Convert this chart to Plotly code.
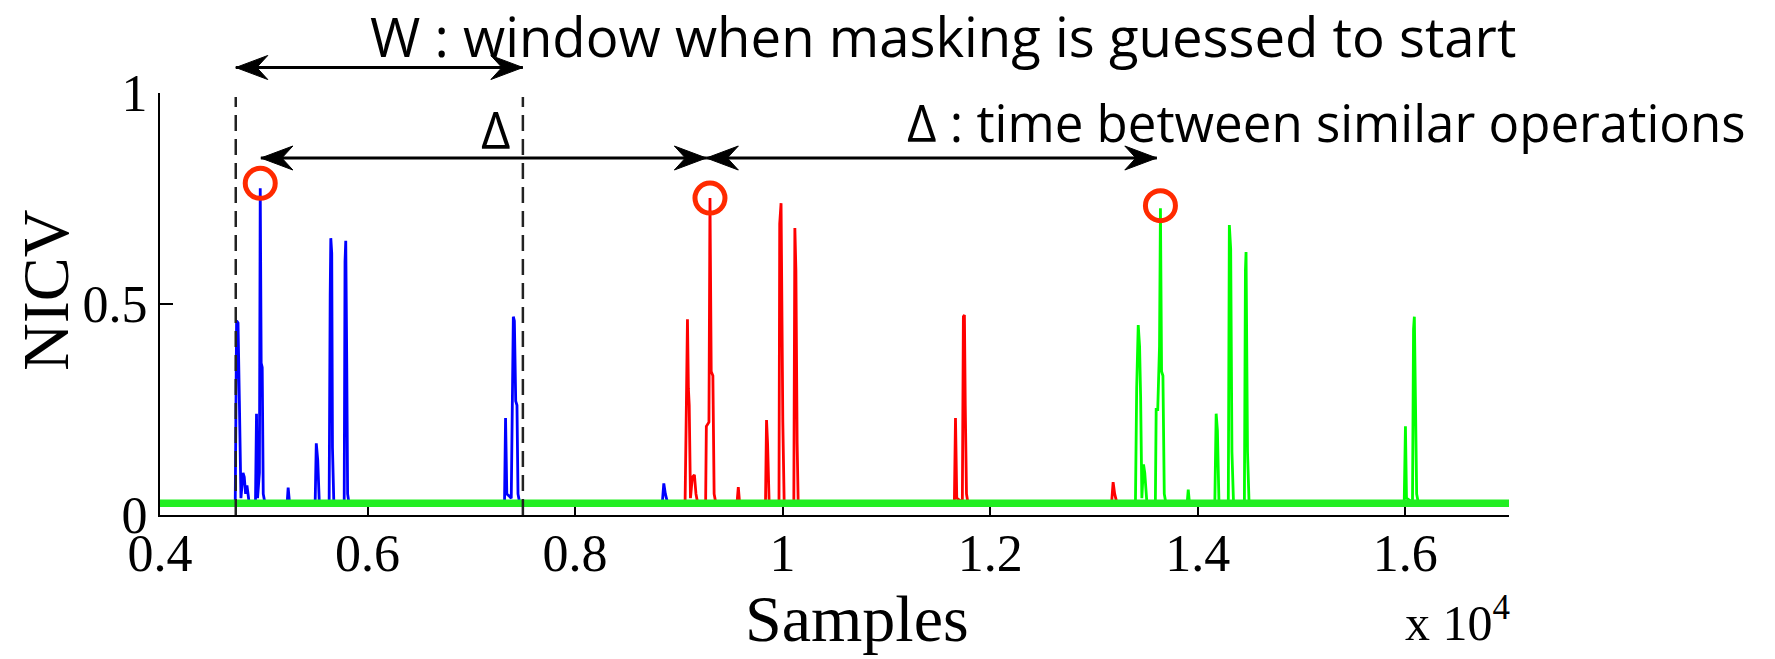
import plotly.graph_objects as go

# ---------------- data ----------------
x_range = [4000, 17000]
noise_band = [0.019, 0.037]

x_tick_vals = [4000, 6000, 8000, 10000, 12000, 14000, 16000]
x_tick_text = ["0.4", "0.6", "0.8", "1", "1.2", "1.4", "1.6"]
y_tick_vals = [0, 0.5, 1]
y_tick_text = ["0", "0.5", "1"]

blue_x = [4000, 4725, 4738, 4752, 4765, 4780, 4800, 4812, 4825, 4838, 4860,
          4920, 4930, 4940, 4958, 4966, 4975, 4985, 4995, 5010,
          5225, 5235, 5248,
          5495, 5506, 5520, 5535,
          5630, 5640, 5646, 5655, 5662, 5675,
          5775, 5783, 5790, 5800, 5808, 5820,
          7320, 7330, 7342,
          7385, 7395, 7405, 7415, 7428, 7440, 7450, 7465,
          8840, 8855, 8870, 8890, 17000]
blue_y = [0.027, 0.027, 0.46, 0.455, 0.27, 0.04, 0.10, 0.09, 0.05, 0.07, 0.027,
          0.027, 0.24, 0.04, 0.10, 0.774, 0.36, 0.35, 0.05, 0.03,
          0.027, 0.065, 0.03,
          0.027, 0.17, 0.13, 0.03,
          0.027, 0.52, 0.656, 0.62, 0.16, 0.03,
          0.027, 0.60, 0.65, 0.35, 0.05, 0.03,
          0.027, 0.23, 0.05,
          0.04, 0.30, 0.47, 0.46, 0.27, 0.26, 0.05, 0.03,
          0.027, 0.075, 0.05, 0.03, 0.027]

red_x = [4000, 9060, 9072, 9083, 9092, 9100, 9112, 9130, 9150, 9165, 9180,
         9258, 9265, 9290, 9300, 9312, 9328, 9340, 9355,
         9560, 9573, 9585,
         9835, 9845, 9855, 9870,
         9965, 9972, 9985, 9995, 10002, 10015,
         10108, 10118, 10128, 10140, 10150,
         11655, 11666, 11678, 11732, 11742, 11752, 11760, 11772, 11785,
         13170, 13185, 13200, 13220, 17000]
red_y = [0.027, 0.027, 0.25, 0.464, 0.30, 0.26, 0.04, 0.09, 0.095, 0.05, 0.03,
         0.027, 0.21, 0.22, 0.751, 0.34, 0.33, 0.05, 0.03,
         0.027, 0.066, 0.03,
         0.027, 0.225, 0.17, 0.03,
         0.027, 0.69, 0.739, 0.30, 0.22, 0.03,
         0.027, 0.68, 0.58, 0.17, 0.03,
         0.027, 0.23, 0.04, 0.03, 0.47, 0.474, 0.26, 0.05, 0.03,
         0.027, 0.078, 0.05, 0.03, 0.027]

green_x = [4000, 13400, 13412, 13427, 13440, 13450, 13462, 13478, 13490, 13510,
           13592, 13600, 13615, 13632, 13641, 13652, 13665, 13678, 13692,
           13898, 13909, 13920,
           14165, 14178, 14190, 14205,
           14295, 14305, 14318, 14330, 14345,
           14450, 14460, 14466, 14480, 14495,
           15990, 16002, 16012, 16070, 16080, 16088, 16098, 16110, 16125, 17000]
green_y = [0.027, 0.027, 0.30, 0.45, 0.40, 0.28, 0.04, 0.12, 0.10, 0.03,
           0.027, 0.25, 0.25, 0.40, 0.727, 0.34, 0.33, 0.05, 0.03,
           0.027, 0.06, 0.03,
           0.027, 0.24, 0.20, 0.03,
           0.027, 0.687, 0.63, 0.15, 0.03,
           0.027, 0.58, 0.623, 0.15, 0.03,
           0.027, 0.21, 0.04, 0.03, 0.44, 0.47, 0.28, 0.05, 0.03, 0.027]

circle_x = [4966, 9300, 13641]
circle_y = [0.786, 0.751, 0.733]

w_window = [4730, 7497]            # dashed window limits
delta_marks = [4972, 9265, 13606]  # ends of the two delta arrows

# ---------------- geometry helpers (pixels -> paper) ----------------
W, H = 1775, 659
PL, PR, PT, PB = 160, 1509, 93, 515


def px(xp):
    return (xp - PL) / (PR - PL)


def py(yp):
    return (PB - yp) / (PB - PT)


SERIF = "Liberation Serif"
SANS = "Open Sans"

fig = go.Figure()
for xs, ys, col, name in [(blue_x, blue_y, "#0000ff", "blue"),
                          (red_x, red_y, "#ff0000", "red"),
                          (green_x, green_y, "#00ff00", "green")]:
    fig.add_trace(go.Scatter(x=xs, y=ys, mode="lines", name=name,
                             line=dict(color=col, width=2.8), showlegend=False,
                             hoverinfo="skip"))

# noisy floor rendered as a thin green band
fig.add_trace(go.Scatter(x=x_range, y=[noise_band[0]] * 2, mode="lines",
                         line=dict(color="#00ff00", width=0), showlegend=False,
                         hoverinfo="skip"))
fig.add_trace(go.Scatter(x=x_range, y=[noise_band[1]] * 2, mode="lines",
                         line=dict(color="#00ff00", width=0), fill="tonexty",
                         fillcolor="#22ee22", showlegend=False, hoverinfo="skip"))

# circled peaks
fig.add_trace(go.Scatter(x=circle_x, y=circle_y, mode="markers",
                         marker=dict(symbol="circle-open", size=30, color="#ff2a00",
                                     line=dict(color="#ff2a00", width=5)),
                         showlegend=False, hoverinfo="skip", cliponaxis=False))

shapes = []
# dashed window lines
for xv in w_window:
    shapes.append(dict(type="line", xref="x", yref="paper", x0=xv, x1=xv,
                       y0=0, y1=py(97), layer="above",
                       line=dict(color="#222222", width=2.5, dash="16px,8px")))


def arrow(x0, x1, yp):
    yv = py(yp)
    out = [dict(type="line", xref="x", yref="paper", x0=x0, x1=x1, y0=yv, y1=yv,
                layer="above", line=dict(color="black", width=3))]
    out.append(dict(type="path", xref="x", yref="paper", xsizemode="pixel",
                    ysizemode="pixel", xanchor=x0, yanchor=yv, layer="above",
                    path="M0,0 L32,12 L21,0 L32,-12 Z", fillcolor="black",
                    line=dict(color="black", width=1)))
    out.append(dict(type="path", xref="x", yref="paper", xsizemode="pixel",
                    ysizemode="pixel", xanchor=x1, yanchor=yv, layer="above",
                    path="M0,0 L-32,12 L-21,0 L-32,-12 Z", fillcolor="black",
                    line=dict(color="black", width=1)))
    return out


shapes += arrow(w_window[0], w_window[1], 67.5)
shapes += arrow(delta_marks[0], delta_marks[1], 158)
shapes += arrow(delta_marks[1], delta_marks[2], 158)

annotations = [
    dict(text="W : window when masking is guessed to start", xref="paper", yref="paper",
         x=px(368), y=py(36), xanchor="left", yanchor="middle", showarrow=False,
         font=dict(family=SANS, size=54.5, color="black")),
    dict(text="Δ", xref="paper", yref="paper", x=px(496), y=py(129),
         xanchor="center", yanchor="middle", showarrow=False,
         font=dict(family=SANS, size=51, color="black")),
    dict(text="Δ : time between similar operations", xref="paper", yref="paper",
         x=px(905), y=py(122), xanchor="left", yanchor="middle", showarrow=False,
         font=dict(family=SANS, size=51, color="black")),
    dict(text="NICV", xref="paper", yref="paper", x=px(45), y=py(290),
         xanchor="center", yanchor="middle", textangle=-90, showarrow=False,
         font=dict(family=SERIF, size=66, color="black")),
    dict(text="Samples", xref="paper", yref="paper", x=px(857), y=py(618),
         xanchor="center", yanchor="middle", showarrow=False,
         font=dict(family=SERIF, size=66, color="black")),
    dict(text="x 10<sup>4</sup>", xref="paper", yref="paper", x=px(1512), y=py(619),
         xanchor="right", yanchor="middle", showarrow=False,
         font=dict(family=SERIF, size=50, color="black")),
]

fig.update_layout(
    width=W, height=H,
    margin=dict(l=PL, r=W - PR, t=PT, b=H - PB, pad=0),
    paper_bgcolor="white", plot_bgcolor="white",
    shapes=shapes, annotations=annotations,
    xaxis=dict(range=x_range, tickvals=x_tick_vals, ticktext=x_tick_text,
               ticks="inside", ticklen=8, tickwidth=1.5, tickcolor="black",
               showline=True, linecolor="black", linewidth=2,
               showgrid=False, zeroline=False, ticklabelstandoff=-8,
               tickfont=dict(family=SERIF, size=52, color="black")),
    yaxis=dict(range=[0, 1], tickvals=y_tick_vals, ticktext=y_tick_text,
               ticks="inside", ticklen=13, tickwidth=1.5, tickcolor="black",
               showline=True, linecolor="black", linewidth=2,
               showgrid=False, zeroline=False,
               tickfont=dict(family=SERIF, size=52, color="black")),
)

fig.write_html("out.html")
